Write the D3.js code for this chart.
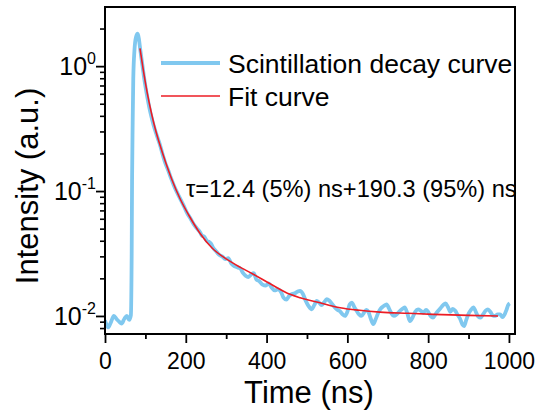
<!DOCTYPE html>
<html>
<head>
<meta charset="utf-8">
<script src="https://cdn.jsdelivr.net/npm/d3@7"></script>
<style>
  body { margin: 0; background: #fff; }
  text { font-family: Arial, "Liberation Sans", sans-serif; fill: #000; }
</style>
</head>
<body>
<div id="chart"></div>
<script>
// measured decay (time in ns, intensity in a.u.)
const decayTime = [0, 4, 8, 14, 22, 29, 35, 41, 48, 54, 60, 64, 66, 67, 68.5, 70, 73, 77, 81, 84, 87, 92, 98, 105, 112, 120, 128, 136, 144, 150, 156, 163, 170, 178, 186, 195, 203, 212, 220, 228, 235, 240, 246, 252, 258, 262, 268, 275, 282, 290, 298, 305, 312, 320, 328, 335, 342, 348, 355, 362, 368, 375, 382, 390, 398, 405, 412, 420, 428, 436, 442, 449, 456, 463, 470, 477, 483, 490, 497, 504, 512, 518, 524, 530, 536, 542, 549, 555, 562, 568, 575, 582, 588, 594, 600, 606, 611, 617, 623, 629, 635, 641, 647, 652, 658, 664, 670, 676, 682, 690, 697, 703, 709, 715, 722, 728, 735, 742, 748, 755, 762, 768, 775, 782, 788, 795, 800, 806, 812, 818, 825, 831, 837, 843, 849, 855, 861, 867, 873, 879, 885, 889, 894, 900, 906, 912, 918, 924, 930, 936, 942, 948, 954, 960, 966, 972, 978, 984, 990, 994, 998, 1002];
const decayIntensity = [0.0092, 0.0085, 0.0081, 0.0088, 0.0100, 0.0094, 0.0090, 0.0087, 0.0095, 0.0100, 0.0093, 0.0101, 0.03, 0.12, 0.35, 0.8, 1.35, 1.72, 1.82, 1.65, 1.38, 1.05, 0.76, 0.56, 0.43, 0.34, 0.28, 0.235, 0.19, 0.165, 0.148, 0.128, 0.112, 0.098, 0.087, 0.076, 0.067, 0.060, 0.054, 0.050, 0.047, 0.044, 0.043, 0.040, 0.039, 0.038, 0.035, 0.033, 0.031, 0.030, 0.0285, 0.029, 0.0265, 0.025, 0.0245, 0.0240, 0.022, 0.021, 0.0205, 0.0215, 0.022, 0.0195, 0.019, 0.0178, 0.0175, 0.0182, 0.017, 0.016, 0.0163, 0.0155, 0.014, 0.0135, 0.0145, 0.0150, 0.0152, 0.0157, 0.0159, 0.0150, 0.0132, 0.0120, 0.0113, 0.0122, 0.0132, 0.0128, 0.0122, 0.0128, 0.0136, 0.0133, 0.0125, 0.0118, 0.0112, 0.0109, 0.0103, 0.0100, 0.0108, 0.0124, 0.0128, 0.0118, 0.0110, 0.0103, 0.0100, 0.0106, 0.0112, 0.0108, 0.0095, 0.0086, 0.0094, 0.0105, 0.0114, 0.0120, 0.0124, 0.0115, 0.0105, 0.0100, 0.0103, 0.0108, 0.0113, 0.0117, 0.0106, 0.0091, 0.0098, 0.0108, 0.0113, 0.0110, 0.0106, 0.0112, 0.0108, 0.0100, 0.0097, 0.0103, 0.0110, 0.0116, 0.0122, 0.0126, 0.0118, 0.0108, 0.0114, 0.0110, 0.0102, 0.0095, 0.0085, 0.0083, 0.0092, 0.0104, 0.0112, 0.0117, 0.0108, 0.0099, 0.0097, 0.0103, 0.0110, 0.0113, 0.0108, 0.0101, 0.0100, 0.0103, 0.0103, 0.0098, 0.0104, 0.0112, 0.0122, 0.0126];

// fit curve
const fitTime = [86.6, 95, 105, 115, 125, 135, 150, 165, 185, 210, 235, 265, 301, 335, 367, 410, 458, 483, 530, 582, 630, 681, 750, 812, 900, 973];
const fitIntensity = [1.39, 0.92, 0.60, 0.42, 0.31, 0.24, 0.17, 0.125, 0.088, 0.062, 0.046, 0.035, 0.0285, 0.0245, 0.0216, 0.0180, 0.0149, 0.0140, 0.0128, 0.01164, 0.0111, 0.01074, 0.0105, 0.0103, 0.0101, 0.0100];

const xTicks = [0, 200, 400, 600, 800, 1000];
const yTicks = [0.01, 0.1, 1];
const yTickExp = ["-2", "-1", "0"];
const legendLabels = ["Scintillation decay curve", "Fit curve"];
const fitLabel = "τ=12.4 (5%) ns+190.3 (95%) ns";

const width = 541, height = 416;
const margin = { top: 7, right: 26, bottom: 82, left: 105 };
const w = width - margin.left - margin.right;
const h = height - margin.top - margin.bottom;

const blue = "#80c8ef", red = "#ec1c24";

const svg = d3.select("#chart").append("svg")
    .attr("width", width)
    .attr("height", height);

const g = svg.append("g")
    .attr("transform", `translate(${margin.left},${margin.top})`);

const xScale = d3.scaleLinear().domain([0, 1015]).range([0, w]);
const yScale = d3.scaleLog().domain([0.00717, 2.975]).range([h, 0]);

// lines
const decayData = decayTime.map((t, i) => ({ t: t, v: decayIntensity[i] }));
const fitData = fitTime.map((t, i) => ({ t: t, v: fitIntensity[i] }));

const line = d3.line()
    .x(d => xScale(d.t))
    .y(d => yScale(d.v))
    .curve(d3.curveMonotoneX);

g.append("path")
    .datum(decayData)
    .attr("fill", "none")
    .attr("stroke", blue)
    .attr("stroke-width", 3.8)
    .attr("stroke-linejoin", "round")
    .attr("d", line);

g.append("path")
    .datum(fitData)
    .attr("fill", "none")
    .attr("stroke", red)
    .attr("stroke-width", 1.6)
    .attr("d", line);

// x axis (bottom), minor ticks at the hundreds
const xMinor = d3.range(100, 1001, 200);
g.append("g")
    .attr("transform", `translate(0,${h})`)
    .call(d3.axisBottom(xScale).tickValues(xMinor).tickSize(5).tickFormat(""))
    .call(a => a.select(".domain").remove())
    .selectAll("line").attr("stroke-width", 1.8);

g.append("g")
    .attr("class", "x-axis")
    .attr("transform", `translate(0,${h})`)
    .call(d3.axisBottom(xScale).tickValues(xTicks).tickSize(9).tickPadding(10).tickFormat(d3.format("d")))
    .call(a => a.select(".domain").remove())
    .call(a => a.selectAll("line").attr("stroke-width", 1.8))
    .selectAll("text")
    .style("font-size", "23px");

// y axis (left), log minor ticks
const yMinor = [];
[0.001, 0.01, 0.1, 1].forEach(dec => {
    for (let k = 2; k <= 9; k++) {
        const v = dec * k;
        if (v > yScale.domain()[0] && v < yScale.domain()[1]) yMinor.push(v);
    }
});
g.append("g")
    .call(d3.axisLeft(yScale).tickValues(yMinor).tickSize(5).tickFormat(""))
    .call(a => a.select(".domain").remove())
    .selectAll("line").attr("stroke-width", 1.6);

const yAxis = g.append("g")
    .call(d3.axisLeft(yScale).tickValues(yTicks).tickSize(9).tickFormat(""))
    .call(a => a.select(".domain").remove());
yAxis.selectAll("line").attr("stroke-width", 1.8);

yTicks.forEach((v, i) => {
    const t = g.append("text")
        .attr("x", -9)
        .attr("y", yScale(v) + 9)
        .attr("text-anchor", "end")
        .style("font-size", "25px");
    t.append("tspan").text("10");
    t.append("tspan")
        .attr("dy", -11)
        .style("font-size", "16px")
        .text(yTickExp[i]);
});

// frame
g.append("rect")
    .attr("width", w)
    .attr("height", h)
    .attr("fill", "none")
    .attr("stroke", "#000")
    .attr("stroke-width", 2);

// axis labels
svg.append("text")
    .attr("x", margin.left + xScale(500) + 2)
    .attr("y", 403)
    .attr("text-anchor", "middle")
    .style("font-size", "31px")
    .text("Time (ns)");

svg.append("text")
    .attr("transform", `translate(38,186) rotate(-90)`)
    .attr("text-anchor", "middle")
    .style("font-size", "31px")
    .text("Intensity (a.u.)");

// legend
const legend = svg.append("g").attr("transform", "translate(161,0)");
[[blue, 3.8, 63], [red, 1.6, 96]].forEach((s, i) => {
    legend.append("line")
        .attr("x1", 0).attr("x2", 59)
        .attr("y1", s[2]).attr("y2", s[2])
        .attr("stroke", s[0])
        .attr("stroke-width", s[1]);
    legend.append("text")
        .attr("x", 67)
        .attr("y", s[2] + 10)
        .style("font-size", "26.5px")
        .text(legendLabels[i]);
});

// fit annotation
svg.append("text")
    .attr("x", 186)
    .attr("y", 197)
    .style("font-size", "23.6px")
    .text(fitLabel);
</script>
</body>
</html>
